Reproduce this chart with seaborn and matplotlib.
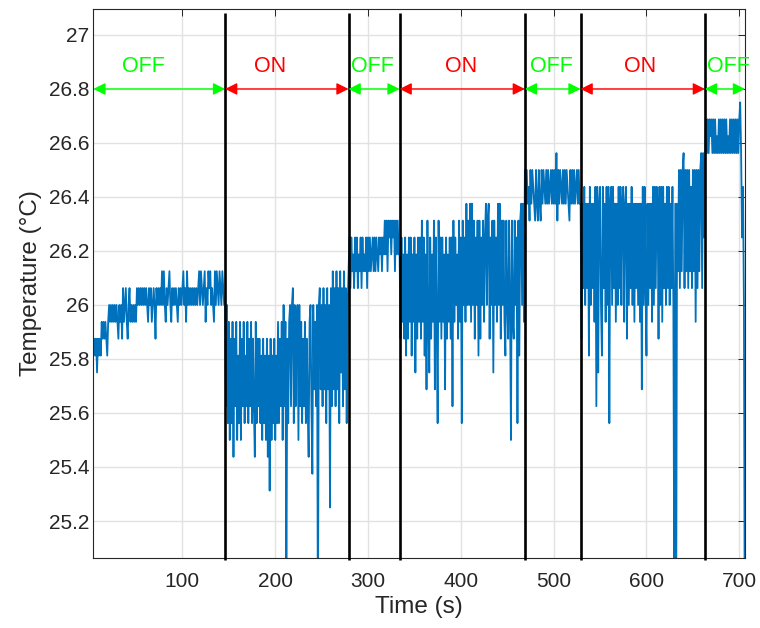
import numpy as np
import pandas as pd
import matplotlib
matplotlib.use("Agg")
import matplotlib.pyplot as plt
import seaborn as sns
from matplotlib.ticker import FuncFormatter

# ---------------- data ----------------
# Sensor raw readings (DS18B20 style, units of 1/16 degC), one sample per second,
# first sample at t = 4 s.  Each list is one heater state period.
first_sample_time = 4
off1_raw = [413, 414, 413, 414, 412, 414, 413, 414, 413,
            415, 414, 415, 414, 415, 414, 413, 415,
            416, 415, 416, 415, 416, 415, 416, 415, 416, 415,
            414, 416, 415, 416, 414, 417, 415, 416, 417, 415,
            414, 416, 417, 415, 416, 415, 416, 415, 416, 415,
            417, 416, 417, 416, 417, 416, 417, 416, 417, 416,
            417, 416, 415, 417, 416, 417, 415, 416, 417, 416,
            414, 417, 416, 417, 416, 417, 416, 418, 416, 418,
            416, 415, 417, 416, 417, 418, 416, 415, 417, 416,
            417, 416, 417, 416, 415, 417, 416, 417, 416, 417,
            418, 416, 417, 415, 418, 416, 417, 416, 417, 416,
            417, 416, 417, 416, 417, 416, 417, 418, 416, 418,
            417, 416, 417, 418, 415, 417, 416, 418, 417, 418,
            416, 417, 416, 415, 418, 416, 418, 417, 416, 418,
            417, 416, 418, 417, 416]
on1_raw = [416, 410, 416, 409, 415, 408, 414, 409, 415, 407,
           414, 410, 415, 408, 413, 409, 415, 408, 414, 410,
           415, 409, 413, 410, 415, 409, 414, 410, 415, 409,
           414, 410, 407, 415, 409, 414, 410, 414, 409, 413,
           408, 414, 409, 413, 408, 414, 407, 413, 405, 414,
           408, 413, 409, 414, 408, 413, 409, 415, 409, 414,
           410, 415, 408, 416, 410, 415, 398, 414, 409, 415,
           416, 410, 416, 417, 409, 416, 410, 415, 416, 408,
           416, 410, 415, 409, 414, 410, 415, 409, 414, 410,
           407, 415, 416, 410, 406, 416, 411, 415, 410, 416,
           396, 416, 417, 411, 416, 410, 417, 411, 416, 409,
           417, 411, 416, 404, 417, 410, 418, 411, 417, 410,
           418, 411, 417, 409, 418, 412, 417, 410, 418, 411,
           417, 409, 416]
off2_raw = [418, 420, 417, 420, 418, 419, 417, 420, 418, 420,
            417, 419, 418, 420, 417, 420, 418, 419, 418, 420,
            417, 420, 418, 420, 418, 419, 420, 418, 420, 418,
            420, 419, 418, 420, 419, 420, 418, 420, 419, 421,
            419, 421, 418, 421, 420, 421, 419, 421, 420, 421,
            418, 421, 419, 421, 419]
on2_raw = [419, 414, 420, 415, 419, 414, 420, 413, 419, 414,
           420, 415, 420, 413, 419, 415, 420, 412, 419, 414,
           420, 415, 420, 414, 421, 415, 420, 413, 419, 411,
           421, 415, 412, 420, 414, 419, 415, 421, 411, 420,
           415, 409, 421, 415, 420, 414, 420, 415, 419, 411,
           420, 414, 419, 415, 420, 414, 420, 410, 421, 415,
           420, 416, 419, 414, 421, 415, 420, 409, 421, 416,
           420, 415, 422, 416, 421, 416, 422, 415, 422, 416,
           421, 414, 420, 416, 421, 413, 421, 414, 420, 416,
           421, 415, 420, 422, 416, 421, 422, 414, 420, 416,
           421, 412, 421, 416, 420, 415, 422, 416, 422, 414,
           421, 416, 421, 415, 413, 421, 416, 414, 421, 416,
           408, 421, 415, 414, 421, 416, 420, 409, 421, 413,
           421, 422, 416, 422, 415]
off3_raw = [424, 422, 424, 422, 423, 421, 424, 422, 424, 423,
            422, 421, 424, 422, 421, 424, 422, 421, 424, 422,
            424, 423, 422, 424, 422, 424, 422, 423, 424, 422,
            424, 422, 424, 422, 425, 421, 424, 422, 424, 423,
            422, 424, 422, 424, 422, 424, 423, 422, 421, 424,
            422, 424, 422, 424, 422, 423, 424, 422, 424, 422]
on3_raw = [422, 414, 422, 417, 423, 416, 422, 417, 422, 413,
           423, 416, 422, 417, 422, 415, 423, 410, 423, 412,
           422, 423, 416, 413, 423, 417, 422, 415, 423, 416,
           423, 409, 422, 423, 416, 423, 417, 422, 415, 422,
           416, 423, 417, 423, 416, 422, 423, 415, 422, 423,
           414, 422, 416, 422, 417, 423, 416, 422, 415, 422,
           417, 422, 416, 422, 415, 422, 411, 423, 416, 423,
           417, 413, 422, 416, 422, 417, 422, 415, 423, 416,
           423, 417, 423, 422, 414, 423, 416, 423, 415, 423,
           417, 422, 416, 423, 417, 423, 416, 422, 417, 423,
           416, 397, 422, 397, 422, 418, 424, 417, 424, 418,
           424, 425, 417, 424, 418, 424, 417, 424, 418, 423,
           417, 424, 418, 424, 415, 424, 417, 424, 418, 424,
           425, 417, 425, 420]
off4_raw = [424, 427, 425, 427, 425, 427, 426, 427, 425, 427,
            425, 427, 425, 426, 425, 427, 425, 427, 425, 427,
            425, 427, 425, 427, 425, 426, 425, 427, 425, 427,
            425, 427, 425, 427, 425, 427, 425, 427, 428, 425,
            420, 423, 416, 394]

switch_times = [146, 279, 334, 469, 529, 663]
state_labels = ["OFF", "ON", "OFF", "ON", "OFF", "ON", "OFF"]
x_ticks = [100, 200, 300, 400, 500, 600, 700]
y_ticks = [25.2, 25.4, 25.6, 25.8, 26.0, 26.2, 26.4, 26.6, 26.8, 27.0]

# ---------------- assemble ----------------
raw = np.array(off1_raw + on1_raw + off2_raw + on2_raw + off3_raw + on3_raw + off4_raw, dtype=float)
time = np.arange(first_sample_time, first_sample_time + len(raw))
df = pd.DataFrame({"Time (s)": time, "Temperature (°C)": raw / 16.0})

# ---------------- style ----------------
sns.set_theme(style="white")
plt.rcParams["font.family"] = ["Liberation Sans", "DejaVu Sans"]

fig = plt.figure(figsize=(7.6, 6.28), dpi=100)
ax = fig.add_axes([0.1228, 0.1119, 0.9803 - 0.1228, 0.9852 - 0.1119])

sns.lineplot(data=df, x="Time (s)", y="Temperature (°C)", ax=ax,
             color="#0072BD", linewidth=1.3, estimator=None, zorder=2)

x_min, x_max = 4, 706.2
y_min, y_max = 25.064, 27.095
ax.set_xlim(x_min, x_max)
ax.set_ylim(y_min, y_max)
ax.set_xticks(x_ticks)
ax.set_yticks(y_ticks)
ax.yaxis.set_major_formatter(FuncFormatter(lambda v, p: f"{v:g}"))

ax.grid(True, color="#e2e2e2", linewidth=1.0, zorder=0)
ax.set_axisbelow(True)
for s in ax.spines.values():
    s.set_color("#262626")
    s.set_linewidth(0.8)
ax.tick_params(direction="in", top=True, right=True, length=5, width=0.7,
               color="#262626", labelcolor="#262626", labelsize=15)
ax.tick_params(axis="x", pad=10)
ax.tick_params(axis="y", pad=3)

ax.set_xlabel("Time (s)", fontsize=17.5, color="#262626", labelpad=4)
ax.set_ylabel("Temperature (°C)", fontsize=17.5, color="#262626", labelpad=5)

# switching lines
ax.vlines(switch_times, 25.055, 27.083, colors="black", linewidth=1.9, zorder=4, clip_on=False)

# state arrows and labels
bounds = [x_min] + switch_times + [x_max]
label_x = [57.7, 194.5, 304.7, 400, 497.9, 592.7, 688.6]
arrow_y = 26.8
label_y = 26.883
for i, lab in enumerate(state_labels):
    col = "#00FF00" if lab == "OFF" else "#FF0000"
    ax.annotate("", xy=(bounds[i + 1], arrow_y), xytext=(bounds[i], arrow_y),
                arrowprops=dict(arrowstyle="<|-|>", color=col, lw=1.0,
                                mutation_scale=18, shrinkA=0, shrinkB=0),
                zorder=5, annotation_clip=False)
    ax.text(label_x[i], label_y, lab, color=col, fontsize=15.5,
            ha="center", va="center", zorder=6, clip_on=False)

fig.savefig("out.png", dpi=100, facecolor="white")
